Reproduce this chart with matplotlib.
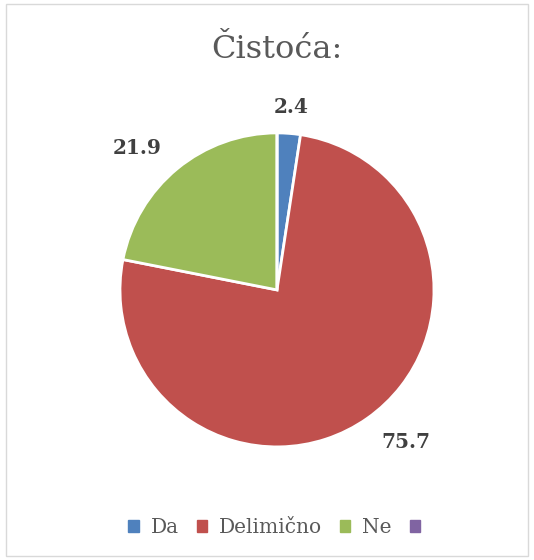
import numpy as np
import matplotlib.pyplot as plt
from matplotlib.patches import Rectangle

# data
categories = ['Da', 'Delimično', 'Ne', '']
values = [2.4, 75.7, 21.9, 0.0]
colors = ['#4F81BD', '#C0504D', '#9BBB59', '#8064A2']

plt.rcParams['font.family'] = ['DejaVu Serif']

fig = plt.figure(figsize=(5.34, 5.60), dpi=100)

# chart border
fig.patches.append(Rectangle((0.011, 0.007), 0.977, 0.986, transform=fig.transFigure,
                             fill=False, edgecolor='#D9D9D9', linewidth=1))

ax = fig.add_axes([0.2247, 0.2018, 0.588, 0.561])
wedges, _ = ax.pie(values, colors=colors, startangle=90, counterclock=False,
                   wedgeprops=dict(edgecolor='white', linewidth=2))
ax.set_xlim(-1, 1)
ax.set_ylim(-1, 1)
ax.set_aspect('equal')

# value labels outside the slices (best-fit style placement)
label_dist = [1.17, 1.27, 1.27]
label_shift = [0, 5, 5]
for w, v, d, s in zip(wedges, values, label_dist, label_shift):
    ang = np.deg2rad((w.theta1 + w.theta2) / 2 + s)
    ax.text(d * np.cos(ang), d * np.sin(ang), f'{v:.1f}', ha='center', va='center',
            fontsize=14.5, fontweight='bold', color='#404040')

fig.text(0.519, 0.911, 'Čistoća:', ha='center', va='center', fontsize=23, color='#595959')

handles = [plt.Rectangle((0, 0), 1, 1, color=c) for c in colors]
fig.legend(handles, categories, loc='center', bbox_to_anchor=(0.525, 0.058), ncol=4,
           frameon=False, fontsize=14.5, handlelength=0.5, handleheight=0.5,
           handletextpad=0.6, columnspacing=0.9, labelcolor='#595959')

fig.savefig('out.png', dpi=100)
